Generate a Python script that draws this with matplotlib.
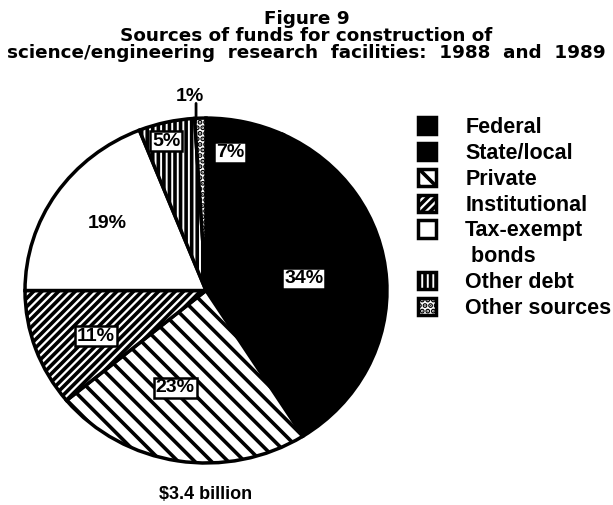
import matplotlib.pyplot as plt
import numpy as np

plt.rcParams['font.family'] = ['Liberation Sans', 'DejaVu Sans']
plt.rcParams['hatch.linewidth'] = 2.6

# data, in clockwise order starting at 12 o'clock
sources = ["State/local", "Federal", "Private", "Institutional",
           "Tax-exempt bonds", "Other debt", "Other sources"]
shares = [7, 34, 23, 11, 19, 5, 1]
legend_order = ["Federal", "State/local", "Private", "Institutional",
                "Tax-exempt bonds", "Other debt", "Other sources"]
total_label = "\\$3.4 billion"

fills = {"State/local": "black", "Federal": "black", "Private": "white",
         "Institutional": "white", "Tax-exempt bonds": "white",
         "Other debt": "white", "Other sources": "white"}
hatches = {"State/local": None, "Federal": None, "Private": "\\\\",
           "Institutional": "////", "Tax-exempt bonds": None,
           "Other debt": "|||", "Other sources": "..."}
# label placement inside the pie (x, y in pie units)
label_xy = {"State/local": (0.133, 0.80), "Federal": (0.54, 0.072),
            "Private": (-0.17, -0.565), "Institutional": (-0.61, -0.264),
            "Tax-exempt bonds": (-0.547, 0.386), "Other debt": (-0.22, 0.867)}

fig = plt.figure(figsize=(6.13, 5.05), dpi=100)
title_font = dict(ha="center", va="center", fontsize=13.2, fontweight="bold",
                  family="DejaVu Sans")
fig.text(0.5, 0.963, "Figure 9", **title_font)
fig.text(0.5, 0.929, "Sources of funds for construction of", **title_font)
fig.text(0.5, 0.895, "science/engineering  research  facilities:  1988  and  1989",
         **title_font)

ax = fig.add_axes([0.0408, 0.0832, 0.5905, 0.683])
wedges, _ = ax.pie(shares, startangle=90, counterclock=False,
                   colors=[fills[s] for s in sources],
                   wedgeprops=dict(edgecolor="black", linewidth=2.5))
for w, s in zip(wedges, sources):
    if hatches[s]:
        w.set_hatch(hatches[s])

box = dict(boxstyle="square,pad=0.1", fc="white", ec="black", lw=1.8)
for s, v in zip(sources, shares):
    if s in label_xy:
        x, y = label_xy[s]
        bb = None if s == "Tax-exempt bonds" else box
        ax.text(x, y, f"{v}%", ha="center", va="center", fontsize=14,
                fontweight="bold", bbox=bb)

# small slice label above the pie with a short leader line
ax.annotate("", xy=(-0.055, 0.99), xytext=(-0.055, 1.085),
            arrowprops=dict(arrowstyle="-", lw=2, color="black",
                            shrinkA=0, shrinkB=0))
ax.text(-0.088, 1.125, f"{shares[-1]}%", ha="center", va="center",
        fontsize=14, fontweight="bold")
ax.text(0.0, -1.18, total_label, ha="center", va="center",
        fontsize=13, fontweight="bold")
ax.set_xlim(-1, 1)
ax.set_ylim(-1, 1)
ax.set_aspect("auto")

# legend: second line of "Tax-exempt bonds" gets its own row without a box
handles, labels = [], []
for s in legend_order:
    h = plt.Rectangle((0, 0), 1, 1, fc=fills[s], ec="black", lw=2.5,
                      hatch=hatches[s])
    if s == "Tax-exempt bonds":
        handles += [h, plt.Rectangle((0, 0), 1, 1, fc="none", ec="none")]
        labels += ["Tax-exempt", " bonds"]
    else:
        handles.append(h)
        labels.append(s)
fig.legend(handles, labels, loc="upper left", bbox_to_anchor=(0.664, 0.789),
           frameon=False, prop=dict(size=15.5, weight="bold"),
           handlelength=0.85, handleheight=0.85, handletextpad=1.35,
           labelspacing=0.22, borderpad=0)

fig.savefig("out.png", dpi=100)
